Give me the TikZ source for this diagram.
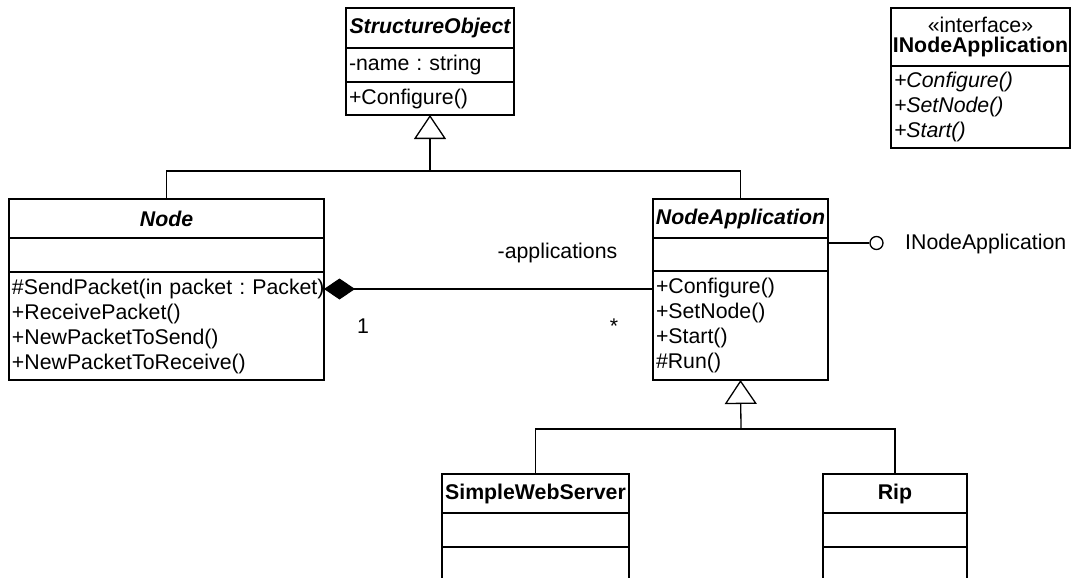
\documentclass[tikz,border=0pt]{standalone}
\usepackage{fontspec}
\setmainfont{Liberation Sans}
\usetikzlibrary{arrows.meta}
\newcommand\umlfont{\fontsize{21.3}{25}\selectfont\frenchspacing}
\begin{document}
\begin{tikzpicture}[x=1pt,y=-1pt,
  cls/.style={draw, line width=1.6pt, anchor=north west, inner sep=0pt, outer sep=0pt, font=\umlfont, align=center},
  lst/.style={cls, align=left, inner xsep=3pt, text width=#1},
  conn/.style={line width=1.3pt},
  gen/.style={conn, -{Triangle[open, length=24pt, width=32pt]}},
  comp/.style={conn, {Diamond[length=31pt, width=21pt]}-},
  lbl/.style={font=\umlfont, inner sep=0pt, anchor=base}]
\fill[white] (0,0) rectangle (1072,578);
\useasboundingbox (0,0) rectangle (1072,578);
\clip (0,0) rectangle (1072,578);
% StructureObject
\node[cls, minimum width=168pt, minimum height=40pt, font=\umlfont\bfseries\itshape] (soh) at (346,8) {StructureObject};
\node[lst=162pt, minimum height=34pt] (soa) at (346,48) {-name : string};
\node[lst=162pt, minimum height=33pt] (soo) at (346,82) {+Configure()};
% Interface
\node[cls, minimum width=179pt, minimum height=58pt, font=\fontsize{21.3}{19.5}\selectfont] (ifh) at (891,8) {«interface»\\\textbf{INodeApplication}};
\node[lst=173pt, minimum height=82pt, font=\umlfont\itshape] (ifo) at (891,66) {+Configure()\\+SetNode()\\+Start()};
% Node
\node[cls, minimum width=315pt, minimum height=39pt, font=\umlfont\bfseries\itshape] (nh) at (9,199) {Node};
\node[cls, minimum width=315pt, minimum height=34pt] (na) at (9,238) {};
\node[lst=309pt, minimum height=108pt] (no) at (9,272) {\mbox{\#SendPacket(in packet : Packet)}\\+ReceivePacket()\\+NewPacketToSend()\\+NewPacketToReceive()};
% NodeApplication
\node[cls, minimum width=175pt, minimum height=39pt, font=\umlfont\bfseries\itshape] (ah) at (653,199) {NodeApplication};
\node[cls, minimum width=175pt, minimum height=33pt] (aa) at (653,238) {};
\node[lst=169pt, minimum height=109pt] (ao) at (653,271) {+Configure()\\+SetNode()\\+Start()\\\#Run()};
% SimpleWebServer
\node[cls, minimum width=187pt, minimum height=39pt, font=\umlfont\bfseries] (sh) at (442,474) {SimpleWebServer};
\node[cls, minimum width=187pt, minimum height=34pt] (sa) at (442,513) {};
\node[cls, minimum width=187pt, minimum height=60pt] (so) at (442,547) {};
% Rip
\node[cls, minimum width=144pt, minimum height=39pt, font=\umlfont\bfseries] (rh) at (823,474) {Rip};
\node[cls, minimum width=144pt, minimum height=34pt] (ra) at (823,513) {};
\node[cls, minimum width=144pt, minimum height=60pt] (ro) at (823,547) {};
% generalization 1
\coordinate (j1) at (430,171);
\draw[conn] (nh.north) |- (j1) -| (ah.north);
\draw[gen] (j1) -- (soo.south);
% generalization 2
\coordinate (j2) at (741,429);
\draw[conn] (sh.north) |- (j2) -| (rh.north);
\draw[gen] (j2) -- (ao.south);
% composition
\draw[comp] (no.east |- 0,289) -- (ao.west |- 0,289);
\node[lbl] (lapp) at (557.5,258) {-applications};
\node[lbl] (lone) at (363,333) {1};
\node[lbl] (lmany) at (614,333) {*};
% lollipop
\node[draw, circle, line width=1.3pt, minimum size=13pt, inner sep=0pt] (lol) at (876.5,243) {};
\draw[conn] (aa.east |- lol) -- (lol);
\node[font=\umlfont, inner sep=0pt, anchor=west] (lolt) at (905,244) {INodeApplication};
\end{tikzpicture}
\end{document}
